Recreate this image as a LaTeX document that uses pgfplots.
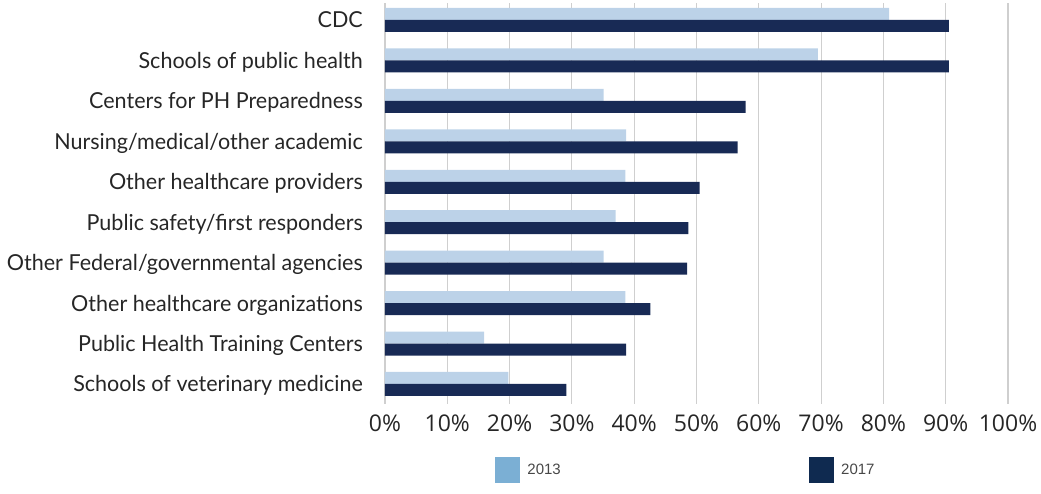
\documentclass[border=0pt]{standalone}
\usepackage{pgfplots}
\pgfplotsset{compat=1.18}
\usepackage{fontspec}
\setmainfont{Lato}[FakeStretch=0.978]
\newfontfamily\tickfont{Open Sans}
\newfontfamily\legfont{Liberation Sans}

\definecolor{bar13}{HTML}{BCD2E8}
\definecolor{bar17}{HTML}{182A55}
\definecolor{leg13}{HTML}{7BAFD4}
\definecolor{leg17}{HTML}{0F2A50}
\definecolor{txt}{HTML}{262626}
\definecolor{gridc}{HTML}{CFCFCF}

\begin{document}
\begin{tikzpicture}
\begin{axis}[
    name=ax,
    scale only axis,
    width=623pt, height=401pt,
    xmin=0, xmax=100,
    ymin=-0.495, ymax=9.42,
    xbar, bar width=12pt,
    axis line style={draw=none},
    major tick length=0pt,
    xmajorgrids,
    grid style={gridc, line width=1.2pt},
    xtick={0,10,...,100},
    xticklabels={0\%,10\%,20\%,30\%,40\%,50\%,60\%,70\%,80\%,90\%,100\%},
    xticklabel style={font=\tickfont\fontsize{23}{26}\selectfont, text=txt, anchor=base, inner sep=0pt, yshift=-28pt},
    ytick={0,...,9},
    yticklabels={Schools of veterinary medicine, Public Health Training Centers, Other healthcare organizations, Other Federal/governmental agencies, Public safety/first responders, Other healthcare providers, Nursing/medical/other academic, Centers for PH Preparedness, Schools of public health, CDC},
    yticklabel style={font=\fontsize{22}{26}\selectfont, text=txt, anchor=base east, inner sep=0pt, xshift=-22pt, yshift=-8pt},
    legend columns=2,
    legend style={draw=none, fill=none, inner sep=0pt, outer sep=0pt,
        font=\legfont\fontsize{15}{18}\selectfont, text=txt!85,
        at={(axis description cs:0.1766,-0.1646)}, anchor=west,
        nodes={inner sep=0pt},
        column sep=8pt,
        /tikz/every even column/.append style={column sep=248pt}},
]

% 2013
\addplot[fill=bar13, draw=none, bar shift=6pt, forget plot] coordinates {
    (19.8,0) (15.9,1) (38.6,2) (35.1,3) (37.0,4) (38.6,5) (38.7,6) (35.1,7) (69.5,8) (80.9,9)
};
% 2017
\addplot[fill=bar17, draw=none, bar shift=-6pt, forget plot] coordinates {
    (29.1,0) (38.7,1) (42.6,2) (48.5,3) (48.7,4) (50.5,5) (56.6,6) (57.9,7) (90.5,8) (90.5,9)
};

\addlegendimage{legend image code/.code={\fill[leg13] (0pt,-12.5pt) rectangle (24pt,12.5pt);}}
\addlegendentry{2013}
\addlegendimage{legend image code/.code={\fill[leg17] (0pt,-12.5pt) rectangle (24pt,12.5pt);}}
\addlegendentry{2017}

\end{axis}
\pgfresetboundingbox
\path[use as bounding box] ([shift={(-385pt,-90pt)}]ax.south west) rectangle ([shift={(656pt,404pt)}]ax.south west);
\end{tikzpicture}
\end{document}
